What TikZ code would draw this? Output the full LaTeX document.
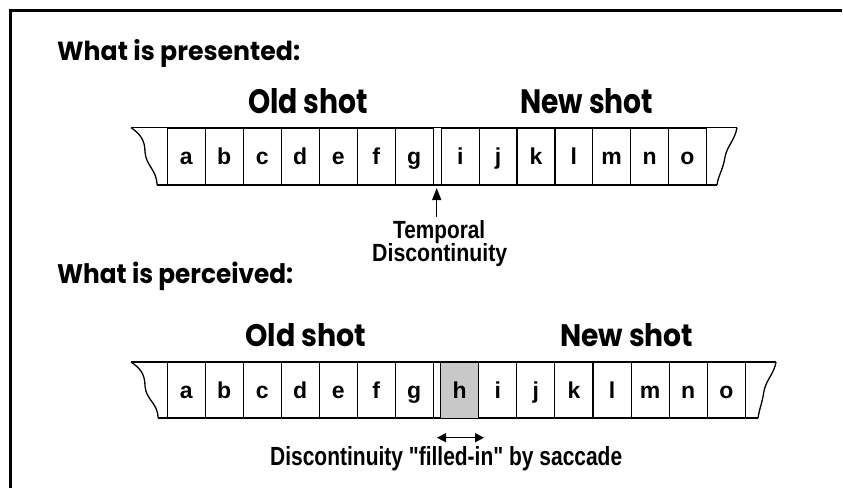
\documentclass[tikz,border=0pt]{standalone}
\usepackage{fontspec}
\usepackage{graphicx}
\setmainfont{Liberation Sans}[Ligatures=TeXOff]
\newfontfamily\headfont{Poppins}
\usetikzlibrary{arrows.meta}
\definecolor{hgray}{RGB}{200,200,200}
\newcommand{\fitbox}[3]{\resizebox{#1pt}{#2pt}{#3}}
\begin{document}
\begin{tikzpicture}[x=1pt,y=-1pt,
  cellbox/.style={draw=black,line width=1.1pt,inner sep=0pt,anchor=north west,
    text height=20pt,text depth=5pt,font=\fontsize{23}{23}\selectfont\bfseries},
  topcell/.style={cellbox,minimum width=38pt,minimum height=57.5pt},
  botcell/.style={cellbox,minimum width=38.1pt,minimum height=56pt},
  lbl/.style={inner sep=0pt,anchor=base west},
  outline/.style={line width=1.3pt,line join=round},
  arr/.style={line width=1.3pt,-{Triangle[length=12pt,width=9pt]}},
  dbl/.style={line width=1.4pt,{Triangle[length=9pt,width=9pt]}-{Triangle[length=9pt,width=9pt]}},
]
\useasboundingbox (0,0) rectangle (843,488);
% frame
\draw[line width=3pt] (10,488) -- (10,10) -- (842,10);

% headings
\node[lbl] (pres) at (57,60) {\fitbox{243}{21}{\headfont\bfseries What is presented:}};
\node[lbl] (perc) at (57,283) {\fitbox{236}{21.5}{\headfont\bfseries What is perceived:}};
\node[lbl] (old1) at (248,113) {\fitbox{120}{25}{\headfont\bfseries Old shot}};
\node[lbl] (new1) at (520,113) {\fitbox{133}{25}{\headfont\bfseries New shot}};
\node[lbl] (old2) at (245,346) {\fitbox{121}{23}{\headfont\bfseries Old shot}};
\node[lbl] (new2) at (560,346) {\fitbox{133}{23}{\headfont\bfseries New shot}};

% top strip
\draw[outline] (131,127.5) -- (737,127.5);
\draw[outline] (157,185) -- (717,185);
\draw[outline] (131,127.5) .. controls (140,134) and (145,140) .. (145,152)
  .. controls (146,166) and (157,170) .. (157,185);
\draw[outline] (737,127.5) .. controls (735,140) and (727,146) .. (725,157)
  .. controls (723,170) and (718,176) .. (717,185);
\foreach \l [count=\i from 0] in {a,b,c,d,e,f,g}
  \node[topcell] (t\l) at ({166.7+38*\i},127.5) {\l};
\foreach \l [count=\i from 0] in {i,j,k,l,m,n,o}
  \node[topcell] (t\l) at ({440.7+37.86*\i},127.5) {\l};

% temporal discontinuity
\node[lbl] (temporal) at (393,238) {\fitbox{92}{18}{\bfseries Temporal}};
\node[lbl] (disc) at (372,261) {\fitbox{135}{18}{\bfseries Discontinuity}};
\coordinate (gap) at (436.7,188);
\draw[arr] (temporal.north -| gap) ++(0,-3) -- (gap);

% bottom strip
\draw[outline] (131,362) -- (776,362);
\draw[outline] (158,418) -- (758,418);
\draw[outline] (131,362) .. controls (140,368) and (145,374) .. (145,386)
  .. controls (146,400) and (158,403) .. (158,418);
\draw[outline] (776,362) .. controls (774,374) and (766,380) .. (764,391)
  .. controls (762,404) and (759,410) .. (758,418);
\foreach \l [count=\i from 0] in {a,b,c,d,e,f,g}
  \node[botcell,minimum width=38pt] (b\l) at ({166.7+38*\i},362) {\l};
\node[botcell,fill=hgray] (bh) at (440,362) {h};
\foreach \l [count=\i from 1] in {i,j,k,l,m,n,o}
  \node[botcell] (b\l) at ({440+38.1*\i},362) {\l};

% saccade
\coordinate (sl) at (437,437.7);
\coordinate (sr) at (484,437.7);
\draw[dbl] (sl) -- (sr);
\node[lbl] (fill) at (270,465) {\fitbox{352}{19}{\bfseries Discontinuity "filled-in" by saccade}};
\end{tikzpicture}
\end{document}
